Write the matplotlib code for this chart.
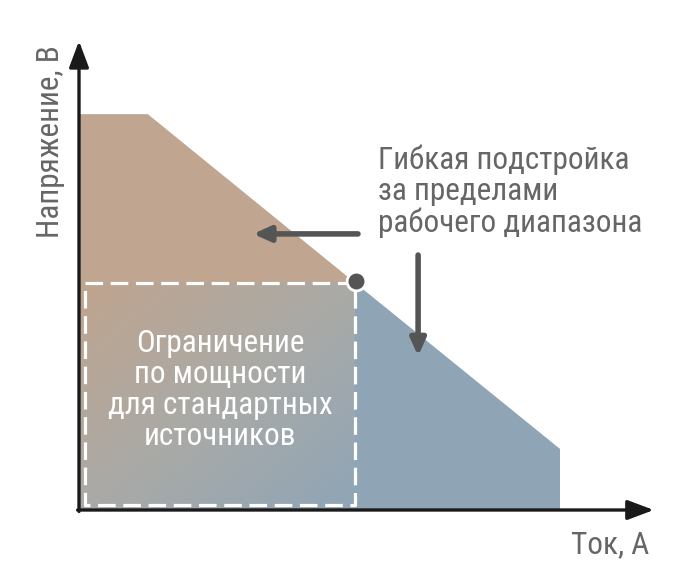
import matplotlib
matplotlib.use('Agg')
import matplotlib.pyplot as plt
import numpy as np
from matplotlib import font_manager
from matplotlib.colors import LinearSegmentedColormap

# данные (условные единицы)
tok = [0, 1.43, 5.72, 10.0]          # ток, А
napr = [8.23, 8.23, 4.74, 1.27]       # напряжение, В
tok_std = 5.72                        # граница стандартного режима
napr_std = 4.74

label_x = 'Ток, А'
label_y = 'Напряжение, В'
text_box = 'Ограничение\nпо мощности\nдля стандартных\nисточников'
text_flex = 'Гибкая подстройка\nза пределами\nрабочего диапазона'

col_brown = '#c0a590'
col_blue = '#8fa5b5'
col_dark = '#555555'
col_text = '#666666'

names = set(f.name for f in font_manager.fontManager.ttflist)
fam = [f for f in ['Roboto Condensed', 'Liberation Sans Narrow', 'Roboto'] if f in names]
fam.append('DejaVu Sans')
plt.rcParams['font.family'] = fam

fig = plt.figure(figsize=(6.8, 5.8), dpi=100)
ax = fig.add_axes([0, 0, 1, 1])
s = 48.1
ax.set_xlim(-79 / s, (680 - 79) / s)
ax.set_ylim(-70 / s, 510 / s)
ax.axis('off')

# коричневая область (выше стандартного режима)
xb = [0, tok[0], tok[1], tok[2], 0]
yb = [0, napr[0], napr[1], napr[2], napr[2]]
ax.fill(xb, yb, color=col_brown, lw=0, zorder=1)
# синяя область
xs = [tok[2], tok[2], tok[3], tok[3]]
ys = [0, napr[2], napr[3], 0]
ax.fill(xs, ys, color=col_blue, lw=0, zorder=1)

# градиент внутри прямоугольника
cmap = LinearSegmentedColormap.from_list('g', ['#c0a48e', '#aaaaa6', '#8fa5b7'])
gx, gy = np.meshgrid(np.linspace(0, 1, 200), np.linspace(0, 1, 200))
grad = (gx + gy) / 2
ax.imshow(grad, cmap=cmap, extent=[0, tok_std, 0, napr_std], origin='upper',
          aspect='auto', zorder=2, interpolation='bilinear')

# пунктирная рамка
bx0, by0 = 0.12, 0.10
bx1, by1 = tok_std + 0.02, napr_std - 0.02
ax.plot([bx0, bx1, bx1, bx0, bx0], [by1, by1, by0, by0, by1], color='white',
        lw=2.3, ls=(0, (5.5, 2.4)), zorder=3)

ax.text(2.93, 2.5, text_box, color='white', fontsize=22.5, ha='center',
        va='center', linespacing=1.08, zorder=4)

# оси со стрелками
ax.annotate('', xy=(11.95, 0), xytext=(-0.03, 0),
            arrowprops=dict(arrowstyle='-|>,head_length=1.6,head_width=0.6',
                            color='#1a1a1a', lw=2.4, shrinkA=0, shrinkB=0), zorder=5)
ax.annotate('', xy=(0, 9.75), xytext=(0, -0.03),
            arrowprops=dict(arrowstyle='-|>,head_length=1.6,head_width=0.6',
                            color='#1a1a1a', lw=2.4, shrinkA=0, shrinkB=0), zorder=5)

# точка
ax.plot(tok_std + 0.04, napr_std + 0.02, 'o', ms=13.5, mfc=col_dark, mec='white',
        mew=2, zorder=6)

# стрелки подстройки
ax.annotate('', xy=(3.62, 5.74), xytext=(5.8, 5.74),
            arrowprops=dict(arrowstyle='-|>,head_length=1.0,head_width=0.45',
                            color=col_dark, lw=4, shrinkA=0, shrinkB=0), zorder=6)
ax.annotate('', xy=(7.05, 3.2), xytext=(7.05, 5.3),
            arrowprops=dict(arrowstyle='-|>,head_length=1.0,head_width=0.45',
                            color=col_dark, lw=4, shrinkA=0, shrinkB=0), zorder=6)

ax.text(6.22, 6.62, text_flex, color=col_text, fontsize=22.5, ha='left',
        va='center', linespacing=1.08)

ax.text(-0.6, 7.65, label_y, color=col_text, fontsize=22.5, rotation=90,
        ha='center', va='center')
ax.text(11.05, -0.72, label_x, color=col_text, fontsize=22.5, ha='center',
        va='center')

fig.savefig('out.png', dpi=100)
